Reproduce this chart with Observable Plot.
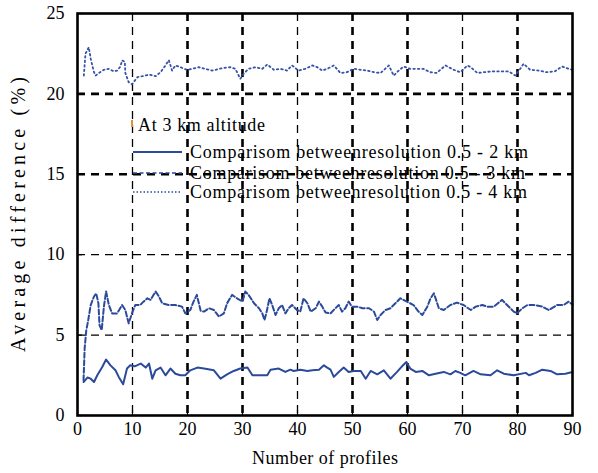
<!DOCTYPE html>
<html><head><meta charset="utf-8">
<script src="https://cdn.jsdelivr.net/npm/d3@7"></script>
<script src="https://cdn.jsdelivr.net/npm/@observablehq/plot@0.6"></script>
<style>body{margin:0;background:#fff}</style>
</head><body><div id="chart"></div>
<script>
// Tick values
const xTickVals = [0,10,20,30,40,50,60,70,80,90];
const yTickVals = [0,5,10,15,20,25];
const gridXThin = [10,40,70];
const gridXThick = [20,30,50,60,80];
const gridYThin = [5,10];
const gridYThick = [15,20];

// Series: [number of profiles, average difference %]
const res2km = [[1.1,2.08],[1.8,2.36],[2.4,2.29],[3.0,2.08],[3.6,2.5],[4.5,3.02],[5.2,3.48],[6.0,3.12],[6.9,2.81],[7.5,2.4],[8.3,1.94],[9.0,2.92],[9.6,3.12],[10.4,3.06],[11.5,3.23],[12.4,2.98],[13.0,3.23],[13.6,2.29],[14.2,2.81],[15.1,2.98],[16.0,2.5],[16.9,2.92],[17.8,2.6],[18.7,2.5],[19.6,2.5],[20.5,2.81],[21.8,2.98],[23.0,2.92],[24.8,2.81],[26.0,2.29],[27.2,2.56],[28.4,2.77],[29.6,2.92],[30.9,2.98],[31.8,2.5],[33.3,2.5],[34.5,2.5],[35.1,2.85],[36.6,2.92],[37.8,2.71],[38.7,2.85],[39.3,2.77],[40.5,2.85],[41.8,2.77],[42.7,2.81],[43.9,2.85],[44.8,3.12],[45.4,2.98],[46.0,2.85],[46.6,2.4],[47.5,2.71],[48.4,2.98],[49.3,2.71],[50.2,2.77],[51.5,2.77],[52.4,2.29],[53.3,2.77],[54.5,2.56],[55.7,2.81],[56.9,2.29],[58.1,2.71],[59.0,3.06],[59.8,3.33],[60.5,2.92],[61.5,2.71],[62.7,2.77],[63.9,2.5],[65.1,2.6],[66.6,2.71],[67.8,2.56],[68.7,2.77],[69.6,2.65],[70.5,2.5],[72.0,2.77],[73.3,2.56],[75.1,2.5],[76.3,2.81],[77.5,2.6],[79.3,2.5],[81.5,2.65],[82.1,2.5],[83.3,2.65],[84.5,2.85],[86.0,2.77],[87.2,2.56],[88.7,2.6],[90.0,2.71]];

const res3km = [[1.1,2.2],[1.3,4.17],[1.6,5.31],[1.9,5.83],[2.4,6.87],[3.0,7.4],[3.4,7.6],[3.8,6.98],[4.0,5.62],[4.4,5.31],[4.8,6.77],[5.2,7.71],[5.7,6.87],[6.3,6.35],[7.2,6.35],[8.1,6.87],[8.7,6.56],[9.3,5.73],[9.9,6.35],[10.5,6.87],[11.4,6.87],[12.0,7.08],[12.7,7.29],[13.3,7.19],[14.2,7.71],[14.8,7.4],[15.4,6.98],[16.6,6.87],[17.8,6.87],[19.0,6.77],[19.6,6.35],[20.5,6.56],[21.1,7.08],[21.7,7.5],[22.4,6.5],[23.0,6.46],[23.9,6.67],[24.8,6.56],[25.7,6.15],[26.6,6.35],[27.2,6.98],[28.1,7.5],[29.0,7.29],[30.0,7.08],[30.5,7.71],[31.1,7.5],[32.1,6.98],[33.0,6.67],[33.6,6.35],[34.0,5.94],[34.4,6.46],[34.9,7.29],[35.4,6.87],[36.0,6.25],[36.6,6.67],[37.2,6.87],[37.8,6.35],[38.4,6.67],[39.0,6.87],[39.9,6.56],[40.5,6.46],[41.1,7.29],[41.8,6.98],[42.4,6.46],[43.3,6.67],[43.9,7.08],[44.5,6.77],[45.1,6.4],[46.0,6.35],[46.9,6.67],[47.5,6.87],[48.1,6.46],[48.7,6.67],[49.3,7.08],[49.9,6.77],[50.9,6.77],[51.8,6.67],[53.0,6.67],[53.9,6.46],[54.5,5.94],[55.1,6.25],[56.0,6.56],[56.9,6.67],[57.8,6.98],[58.7,7.29],[59.9,7.08],[61.1,6.87],[62.0,6.46],[62.7,6.25],[63.6,6.77],[64.2,7.29],[64.8,7.6],[65.7,6.67],[66.6,6.56],[67.8,6.87],[69.0,7.02],[70.2,6.87],[71.5,6.56],[72.4,6.77],[73.6,6.87],[74.5,6.77],[75.7,6.77],[77.2,7.19],[78.1,6.87],[79.3,6.46],[79.9,6.35],[80.9,6.67],[81.8,6.87],[83.0,6.87],[84.5,6.77],[85.7,6.56],[87.2,6.87],[88.4,6.87],[89.3,7.08],[90.0,6.9]];

const res4km = [[1.15,21.14],[1.45,22.5],[2.05,22.9],[2.4,22.2],[2.6,21.9],[3.0,21.35],[3.3,21.14],[3.9,21.3],[4.8,21.5],[5.7,21.56],[6.6,21.4],[7.2,21.45],[7.8,21.7],[8.1,22.08],[8.6,22.0],[8.7,21.3],[9.3,20.73],[9.9,20.6],[10.9,21.04],[11.8,21.1],[13.0,21.2],[14.2,21.1],[15.1,21.35],[16.0,21.77],[16.6,22.1],[17.2,21.45],[17.8,21.77],[18.7,21.66],[19.9,21.5],[20.9,21.56],[22.0,21.66],[23.2,21.56],[24.5,21.45],[26.3,21.6],[27.8,21.66],[28.7,21.56],[29.6,20.94],[30.2,21.25],[31.1,21.56],[32.4,21.66],[33.6,21.56],[34.5,21.83],[35.7,21.5],[36.9,21.56],[38.1,21.45],[39.0,21.77],[40.2,21.45],[41.4,21.56],[42.7,21.77],[43.6,21.66],[44.5,21.45],[45.4,21.56],[46.6,21.77],[47.8,21.3],[49.0,21.35],[50.2,21.56],[51.5,21.5],[52.7,21.45],[53.9,21.35],[55.1,21.3],[56.6,21.77],[57.5,21.14],[58.4,21.45],[59.3,21.7],[60.5,21.56],[61.7,21.56],[62.9,21.56],[64.1,21.35],[65.3,21.3],[66.9,21.77],[68.4,21.5],[69.6,21.35],[70.9,21.77],[71.5,21.66],[72.7,21.3],[73.9,21.35],[75.4,21.4],[76.9,21.4],[78.4,21.4],[79.6,21.14],[80.5,21.56],[81.1,21.87],[82.3,21.5],[83.8,21.45],[85.3,21.35],[86.8,21.4],[88.1,21.7],[89.3,21.56],[89.9,21.5]];

const legendTitle = "At 3 km altitude";
const legendLabels = ["Comparisom betweenresolution 0.5 - 2 km","Comparisom betweenresolution 0.5 - 3 km","Comparisom betweenresolution 0.5 - 4 km"];

const blue = "#2c4a9b";
const dash = "8,6";

const chart = Plot.plot({
  width: 598, height: 473,
  marginLeft: 77, marginRight: 26, marginTop: 13, marginBottom: 58,
  style: {fontFamily: '"Liberation Serif", "Times New Roman", serif', fontSize: "18px", background: "#fff", color: "#000"},
  x: {domain: [0, 90]},
  y: {domain: [0, 25]},
  marks: [
    Plot.ruleX(gridXThin, {stroke: "#000", strokeWidth: 1.3, strokeDasharray: dash}),
    Plot.ruleX(gridXThick, {stroke: "#000", strokeWidth: 2.6, strokeDasharray: dash}),
    Plot.ruleY(gridYThin, {stroke: "#000", strokeWidth: 1.3, strokeDasharray: dash}),
    Plot.ruleY(gridYThick, {stroke: "#000", strokeWidth: 2.6, strokeDasharray: dash}),
    Plot.ruleX(xTickVals, {y1: 0, y2: 0.3, stroke: "#000", strokeWidth: 1.2}),
    Plot.ruleY(yTickVals, {x1: 0, x2: 0.9, stroke: "#000", strokeWidth: 1.2}),
    Plot.line(res2km, {x: d => d[0], y: d => d[1], stroke: blue, strokeWidth: 2}),
    Plot.line(res3km, {x: d => d[0], y: d => d[1], stroke: blue, strokeWidth: 2, strokeDasharray: "5,2.5"}),
    Plot.line(res4km, {x: d => d[0], y: d => d[1], stroke: "#3553a8", strokeWidth: 1.8, strokeDasharray: "1.5,3"}),
    Plot.frame({stroke: "#000", strokeWidth: 2.6}),
    Plot.axisX({ticks: xTickVals, tickSize: 0, tickPadding: 7, label: "Number of profiles", labelArrow: "none", labelAnchor: "center", labelOffset: 48}),
    Plot.axisY({ticks: yTickVals, tickSize: 0, tickPadding: 13, label: "Average difference (%)", labelArrow: "none", labelAnchor: "center", labelOffset: 67})
  ]
});
document.getElementById("chart").appendChild(chart);

const svg = d3.select(chart);
svg.selectAll('g[aria-label="x-axis label"] text').text("Number of profiles").attr("textLength", 146).attr("lengthAdjust", "spacing");
svg.selectAll('g[aria-label="y-axis label"] text').text("Average difference (%)").attr("font-size", 20).attr("textLength", 275).attr("lengthAdjust", "spacing");

// Legend (transparent, inside the plot area)
const lg = svg.append("g").attr("font-family", '"Liberation Serif", "Times New Roman", serif').attr("font-size", 18).attr("fill", "#000").attr("text-anchor", "start");
lg.append("rect").attr("x", 131).attr("y", 120).attr("width", 2).attr("height", 7).attr("fill", "#e0903a");
lg.append("text").attr("x", 138).attr("y", 131).attr("textLength", 127).attr("lengthAdjust", "spacing").text(legendTitle);
const rows = [
  {y: 152, base: 158, dash: null, w: 2, len: 338},
  {y: 173, base: 179, dash: "4,2.5", w: 1.3, len: 335},
  {y: 192, base: 198, dash: "1.5,2", w: 1.6, len: 337}
];
rows.forEach((r, i) => {
  const l = lg.append("line").attr("x1", 133).attr("x2", 182).attr("y1", r.y).attr("y2", r.y)
    .attr("stroke", blue).attr("stroke-width", r.w);
  if (r.dash) l.attr("stroke-dasharray", r.dash);
  lg.append("text").attr("x", 190).attr("y", r.base).attr("textLength", r.len).attr("lengthAdjust", "spacing").text(legendLabels[i]);
});
</script>
</body></html>
